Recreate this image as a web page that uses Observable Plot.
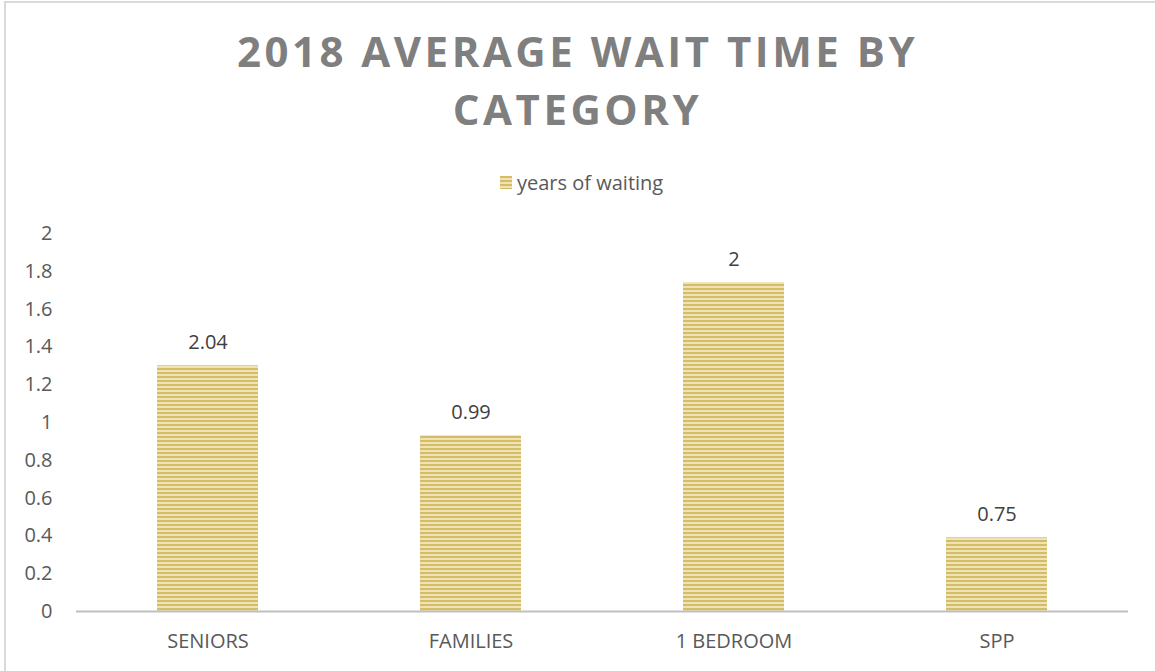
<!DOCTYPE html>
<html>
<head>
<meta charset="utf-8">
<script src="https://cdn.jsdelivr.net/npm/d3@7"></script>
<script src="https://cdn.jsdelivr.net/npm/@observablehq/plot@0.6"></script>
<style>
  html, body { margin: 0; padding: 0; background: #fff; }
  #wrap { position: relative; width: 1155px; height: 671px; overflow: hidden; font-family: "Open Sans", sans-serif; }
  #frame { position: absolute; left: 4px; top: 1px; width: 1200px; height: 700px; border-top: 2px solid #d9d9d9; border-left: 2px solid #d9d9d9; }
  #title { position: absolute; left: 0; width: 1155px; top: 22px; text-align: center; color: #7f7f7f; font-weight: 700; font-size: 42px; line-height: 58px; letter-spacing: 3.5px; }
  #legend { position: absolute; top: 169px; left: 500px; display: flex; align-items: center; color: #595959; font-size: 20px; }
  #legend svg { margin-right: 5px; }
  #chart { position: absolute; left: 0; top: 0; }
</style>
</head>
<body>
<div id="wrap">
  <div id="frame"></div>
  <div id="chart"></div>
  <div id="title">2018 AVERAGE WAIT TIME BY<br>CATEGORY</div>
  <div id="legend"><svg width="12" height="13"><defs><pattern id="lgstripes" width="4" height="4" patternUnits="userSpaceOnUse"><rect width="4" height="2" fill="#d3bd67"></rect><rect y="2" width="4" height="2" fill="#efe3b6"></rect></pattern></defs><rect width="12" height="13" fill="url(#lgstripes)"></rect></svg><span>years of waiting</span></div>
</div>
<script>
const categories = ["SENIORS", "FAMILIES", "1 BEDROOM", "SPP"];
const barValues = [1.3, 0.93, 1.74, 0.39];
const labelTexts = ["2.04", "0.99", "2", "0.75"];
const yTicks = [0, 0.2, 0.4, 0.6, 0.8, 1, 1.2, 1.4, 1.6, 1.8, 2];

const data = categories.map((c, i) => ({category: c, value: barValues[i], label: labelTexts[i]}));

const defs = () => {
  const ns = "http://www.w3.org/2000/svg";
  const g = document.createElementNS(ns, "defs");
  g.innerHTML = '<pattern id="stripes" width="4" height="4" patternUnits="userSpaceOnUse">' +
    '<rect width="4" height="2" fill="#d3bd67"></rect>' +
    '<rect y="2" width="4" height="2" fill="#efe3b6"></rect></pattern>';
  return g;
};

const chart = Plot.plot({
  width: 1155,
  height: 671,
  marginTop: 233,
  marginBottom: 60,
  marginLeft: 76,
  marginRight: 27,
  style: {fontFamily: "'Open Sans', sans-serif", fontSize: "20px", color: "#595959", background: "transparent"},
  x: {domain: categories, paddingInner: 0.616, paddingOuter: 0.308, align: 0.5, label: null},
  y: {domain: [0, 2], label: null},
  marks: [
    defs,
    Plot.axisY({ticks: yTicks, tickSize: 0, tickPadding: 24, tickFormat: d => String(d), fill: "#595959", fontSize: 20}),
    Plot.axisX({tickSize: 0, tickPadding: 22, fill: "#595959", fontSize: 20}),
    Plot.barY(data, {x: "category", y: "value", fill: "url(#stripes)"}),
    Plot.ruleY([0], {stroke: "#bfbfbf", strokeWidth: 2}),
    Plot.text(data, {x: "category", y: "value", text: "label", lineAnchor: "bottom", dy: -17, fill: "#404040", fontSize: 20})
  ]
});
document.getElementById("chart").appendChild(chart);
</script>
</body>
</html>
